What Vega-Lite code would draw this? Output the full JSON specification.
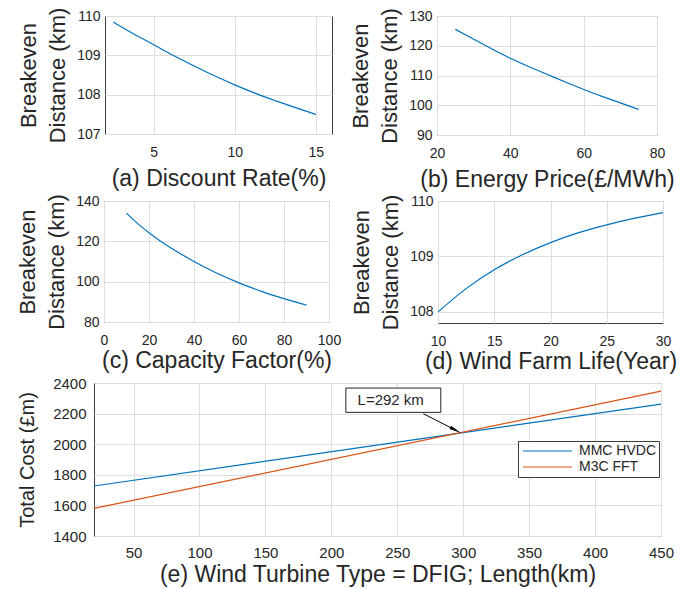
{
  "$schema": "https://vega.github.io/schema/vega-lite/v6.json",
  "background": "white",
  "padding": {"left": 0, "top": 6, "right": 0, "bottom": 0},
  "config": {
    "font": "Liberation Sans",
    "view": {"stroke": "#3c3c3c", "strokeWidth": 1},
    "axis": {"grid": true, "gridColor": "#dedede", "domain": false, "ticks": false, "tickSize": 0, "labelFont": "Liberation Sans", "labelFontSize": 14, "labelColor": "#262626", "titleFont": "Liberation Sans", "titleFontWeight": "normal", "titleColor": "#262626", "labelFlush": false, "labelOverlap": false},
    "axisX": {"labelPadding": 11, "titleFontSize": 23},
    "axisY": {"labelPadding": 5, "minExtent": 29, "maxExtent": 29, "titleFontSize": 22, "titleLineHeight": 29},
    "line": {"strokeWidth": 1.2}
  },
  "resolve": {"scale": {"color": "independent"}, "legend": {"color": "independent"}},
  "datasets": {
    "discount": [
      {"rate": 2.5, "dist": 109.85}, {"rate": 3.75, "dist": 109.55}, {"rate": 5, "dist": 109.27},
      {"rate": 6.25, "dist": 108.99}, {"rate": 7.5, "dist": 108.73}, {"rate": 8.75, "dist": 108.48},
      {"rate": 10, "dist": 108.25}, {"rate": 11.25, "dist": 108.04}, {"rate": 12.5, "dist": 107.85},
      {"rate": 13.75, "dist": 107.67}, {"rate": 15, "dist": 107.5}
    ],
    "price": [
      {"price": 25, "dist": 125.5}, {"price": 30, "dist": 122.2}, {"price": 35, "dist": 118.9},
      {"price": 40, "dist": 115.8}, {"price": 45, "dist": 113.0}, {"price": 50, "dist": 110.4},
      {"price": 55, "dist": 107.8}, {"price": 60, "dist": 105.3}, {"price": 65, "dist": 103.0},
      {"price": 70, "dist": 100.8}, {"price": 75, "dist": 98.6}
    ],
    "capacity": [
      {"cf": 10, "dist": 134.0}, {"cf": 15, "dist": 128.8}, {"cf": 20, "dist": 124.3},
      {"cf": 25, "dist": 120.2}, {"cf": 30, "dist": 116.6}, {"cf": 40, "dist": 110.0},
      {"cf": 50, "dist": 104.3}, {"cf": 60, "dist": 99.4}, {"cf": 70, "dist": 95.2},
      {"cf": 80, "dist": 91.6}, {"cf": 90, "dist": 88.4}
    ],
    "life": [
      {"life": 10, "dist": 108.0}, {"life": 12.5, "dist": 108.42}, {"life": 15, "dist": 108.76},
      {"life": 17.5, "dist": 109.03}, {"life": 20, "dist": 109.25}, {"life": 22.5, "dist": 109.43},
      {"life": 25, "dist": 109.57}, {"life": 27.5, "dist": 109.69}, {"life": 30, "dist": 109.79}
    ],
    "cost": [
      {"length": 20, "cost": 1727, "system": "MMC HVDC"},
      {"length": 450, "cost": 2262, "system": "MMC HVDC"},
      {"length": 20, "cost": 1580, "system": "M3C FFT"},
      {"length": 450, "cost": 2347, "system": "M3C FFT"}
    ],
    "annotationBox": [
      {"length": 211, "length2": 283, "cost": 2208, "cost2": 2367}
    ],
    "annotationText": [
      {"length": 245, "cost": 2291, "label": "L=292 km"}
    ],
    "arrow": [
      {"length": 269.8, "cost": 2199},
      {"length": 292.9, "cost": 2098}
    ],
    "arrowHead": [
      {"length": 292.9, "cost": 2098}
    ]
  },
  "spacing": 1,
  "vconcat": [
    {
      "spacing": 15,
      "hconcat": [
        {"width": 1, "height": 1, "data": {"values": []}, "mark": {"type": "point"}, "encoding": {}, "view": {"stroke": null}},
        {
          "width": 227, "height": 118,
          "data": {"name": "discount"},
          "mark": {"type": "line", "color": "#0072BD", "interpolate": "monotone"},
          "encoding": {
            "x": {"field": "rate", "type": "quantitative", "scale": {"domain": [2, 16], "nice": false, "zero": false}, "axis": {"values": [5, 10, 15], "title": "(a) Discount Rate(%)", "titlePadding": 8}},
            "y": {"field": "dist", "type": "quantitative", "scale": {"domain": [107, 110], "nice": false, "zero": false}, "axis": {"values": [107, 108, 109, 110], "title": ["Breakeven", "Distance (km)"], "titlePadding": 7}}
          }
        },
        {
          "width": 220, "height": 119,
          "data": {"name": "price"},
          "mark": {"type": "line", "color": "#0072BD", "interpolate": "monotone"},
          "encoding": {
            "x": {"field": "price", "type": "quantitative", "scale": {"domain": [20, 80], "nice": false, "zero": false}, "axis": {"values": [20, 40, 60, 80], "title": "(b) Energy Price(£/MWh)", "titlePadding": 8}},
            "y": {"field": "dist", "type": "quantitative", "scale": {"domain": [90, 130], "nice": false, "zero": false}, "axis": {"values": [90, 100, 110, 120, 130], "title": ["Breakeven", "Distance (km)"], "titlePadding": 7}}
          }
        }
      ]
    },
    {
      "spacing": 7,
      "hconcat": [
        {"width": 8, "height": 1, "data": {"values": []}, "mark": {"type": "point"}, "encoding": {}, "view": {"stroke": null}},
        {
          "width": 225, "height": 121,
          "data": {"name": "capacity"},
          "mark": {"type": "line", "color": "#0072BD", "interpolate": "monotone"},
          "encoding": {
            "x": {"field": "cf", "type": "quantitative", "scale": {"domain": [0, 100], "nice": false, "zero": false}, "axis": {"values": [0, 20, 40, 60, 80, 100], "title": "(c) Capacity Factor(%)", "titlePadding": 2}},
            "y": {"field": "dist", "type": "quantitative", "scale": {"domain": [80, 140], "nice": false, "zero": false}, "axis": {"values": [80, 100, 120, 140], "title": ["Breakeven", "Distance (km)"], "titlePadding": 7}}
          }
        },
        {
          "width": 225, "height": 122,
          "data": {"name": "life"},
          "mark": {"type": "line", "color": "#0072BD", "interpolate": "monotone"},
          "encoding": {
            "x": {"field": "life", "type": "quantitative", "scale": {"domain": [10, 30], "nice": false, "zero": false}, "axis": {"values": [10, 15, 20, 25, 30], "title": "(d) Wind Farm Life(Year)", "titlePadding": 2}},
            "y": {"field": "dist", "type": "quantitative", "scale": {"domain": [107.8, 110], "nice": false, "zero": false}, "axis": {"values": [108, 109, 110], "title": ["Breakeven", "Distance (km)"], "titlePadding": 7}}
          }
        }
      ]
    },
    {
      "spacing": 15,
      "resolve": {"scale": {"color": "independent"}, "legend": {"color": "independent"}},
      "hconcat": [
        {"width": 1, "height": 1, "data": {"values": []}, "mark": {"type": "point"}, "encoding": {}, "view": {"stroke": null}},
        {
          "width": 567, "height": 153,
          "encoding": {
            "x": {"field": "length", "type": "quantitative", "scale": {"domain": [20, 450], "nice": false, "zero": false}, "axis": {"values": [50, 100, 150, 200, 250, 300, 350, 400, 450], "format": "d", "title": "(e) Wind Turbine Type = DFIG; Length(km)", "titleFontSize": 23, "labelFontSize": 15, "labelPadding": 9, "titlePadding": 3}},
            "y": {"field": "cost", "type": "quantitative", "scale": {"domain": [1400, 2400], "nice": false, "zero": false}, "axis": {"values": [1400, 1600, 1800, 2000, 2200, 2400], "format": "d", "title": "Total Cost (£m)", "titleFontSize": 20, "labelFontSize": 15, "labelPadding": 8, "minExtent": 42, "maxExtent": 42, "titlePadding": 15}}
          },
          "layer": [
            {
              "data": {"name": "cost"},
              "mark": {"type": "line", "strokeWidth": 1.2},
              "encoding": {
                "color": {"field": "system", "type": "nominal", "scale": {"domain": ["MMC HVDC", "M3C FFT"], "range": ["#0072BD", "#D95319"]},
                  "legend": {"orient": "none", "legendX": 424, "legendY": 58, "title": null, "symbolType": "M-1,0H8.8", "symbolSize": 100, "symbolStrokeWidth": 1.2, "labelFontSize": 14, "labelColor": "#262626", "labelFont": "Liberation Sans", "strokeColor": "#3c3c3c", "fillColor": "white", "padding": 3, "rowPadding": 2, "labelOffset": 44}}
              }
            },
            {
              "data": {"name": "annotationBox"},
              "mark": {"type": "rect", "fill": "white", "stroke": "#262626", "strokeWidth": 1},
              "encoding": {"x2": {"field": "length2"}, "y2": {"field": "cost2"}}
            },
            {
              "data": {"name": "annotationText"},
              "mark": {"type": "text", "fontSize": 15, "color": "#262626", "align": "center", "baseline": "middle", "font": "Liberation Sans"},
              "encoding": {"text": {"field": "label"}}
            },
            {
              "data": {"name": "arrow"},
              "mark": {"type": "line", "color": "black", "strokeWidth": 1},
              "encoding": {}
            },
            {
              "data": {"name": "arrowHead"},
              "mark": {"type": "point", "shape": "wedge", "filled": true, "color": "black", "size": 196, "angle": 117, "opacity": 1},
              "encoding": {}
            }
          ]
        }
      ]
    }
  ]
}
